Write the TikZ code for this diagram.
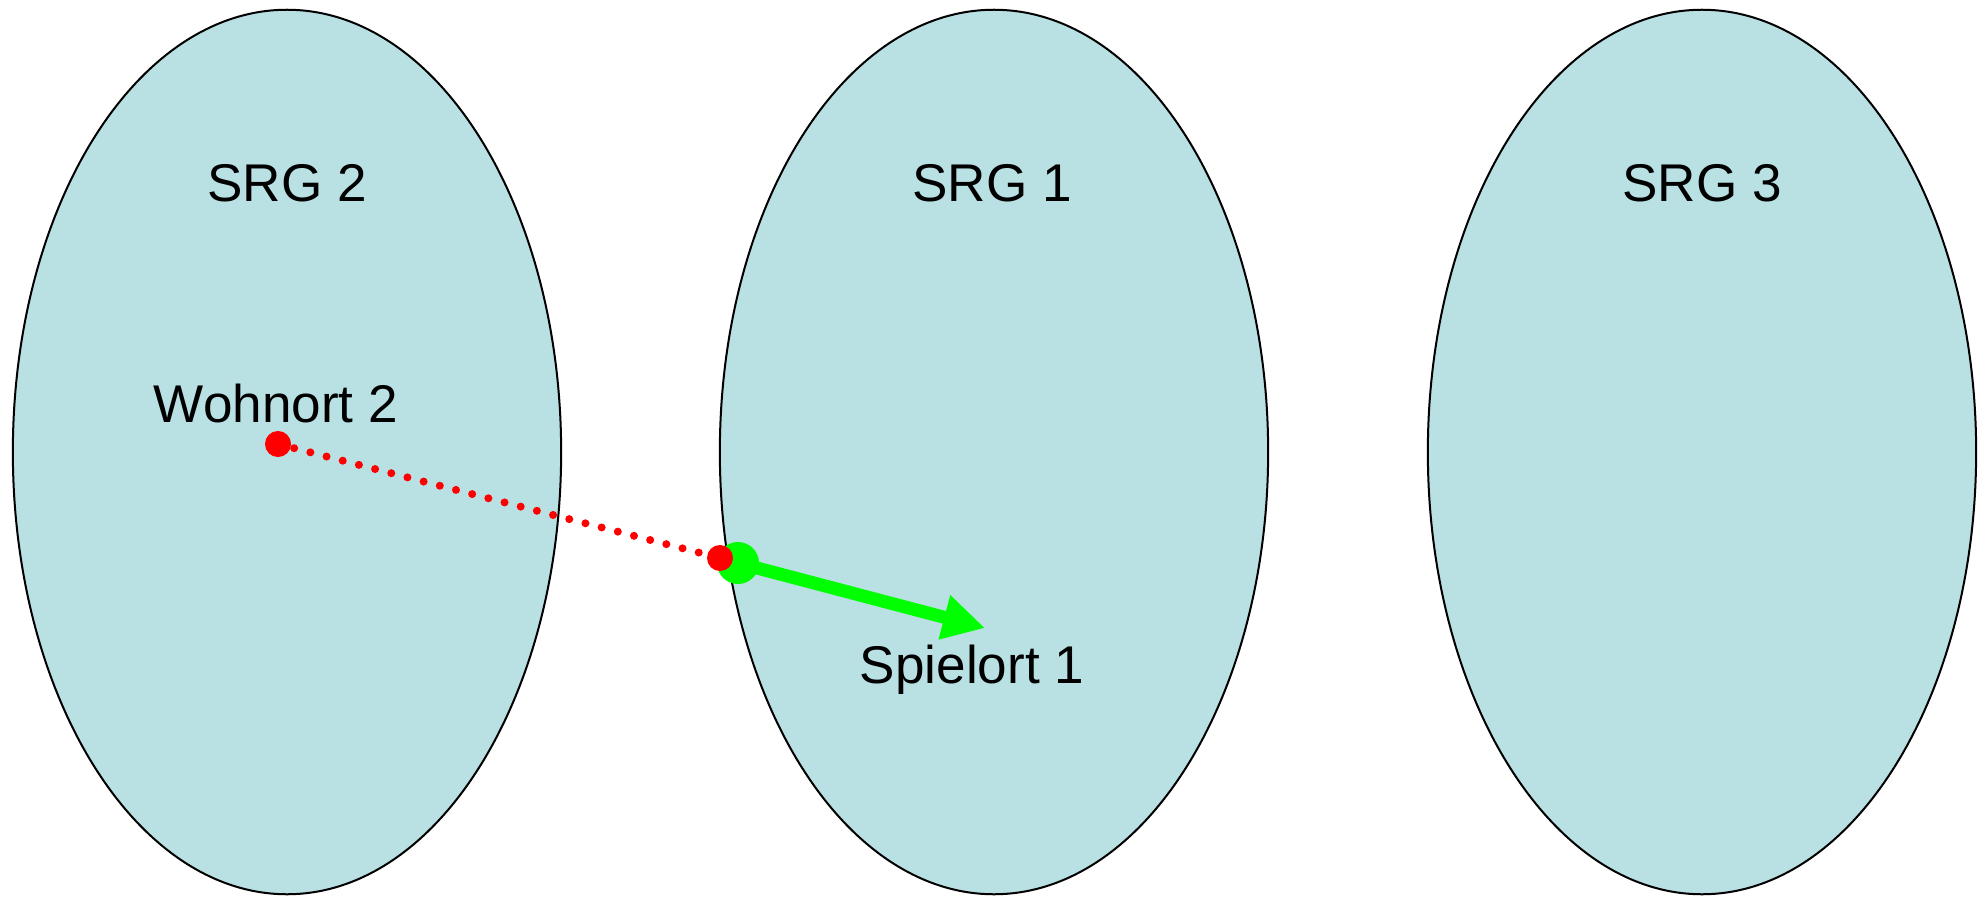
\documentclass[tikz,border=0pt]{standalone}
\usepackage{fontspec}
\setmainfont{Liberation Sans}
\usetikzlibrary{shapes.geometric,arrows.meta}
\definecolor{srgfill}{RGB}{185,224,227}
\definecolor{srggreen}{RGB}{0,255,0}
\begin{document}
\begin{tikzpicture}[x=0.01cm,y=-0.01cm,
    srg/.style={ellipse,draw=black,line width=0.02cm,fill=srgfill,
      minimum width=5.48cm,minimum height=8.84cm,inner sep=0pt},
    txt/.style={anchor=base,inner sep=0pt,font=\fontsize{15.1}{18}\selectfont},
    reddot/.style={circle,fill=red,minimum size=0.26cm,inner sep=0pt},
    greendot/.style={circle,fill=srggreen,minimum size=0.42cm,inner sep=0pt}]
  \useasboundingbox (0,0) rectangle (1984,897);
  \draw
    (287,452) node[srg] (s2){}
    (994,452) node[srg] (s1){}
    (1702,452) node[srg] (s3){};
  \draw
    (287,201) node[txt] (t2){SRG 2}
    (992,201) node[txt] (t1){SRG 1}
    (1702,201) node[txt] (t3){SRG 3}
    (276,422) node[txt] (wo){Wohnort 2}
    (972,683) node[txt] (sp){Spielort 1};
  \node[greendot] (gruen) at (738,563) {};
  \coordinate (spiel) at (985,628);
  \draw[srggreen,line width=0.13cm,-{Triangle[length=0.42cm,width=0.43cm]}]
    (gruen.center) -- (spiel);
  \node[reddot] (wohnort) at (278,444) {};
  \node[reddot] (grenze) at (720,558) {};
  \draw[red,line width=0.08cm,line cap=round,dash pattern=on 0pt off 0.167cm]
    (wohnort.center) -- (grenze.center);
\end{tikzpicture}
\end{document}
